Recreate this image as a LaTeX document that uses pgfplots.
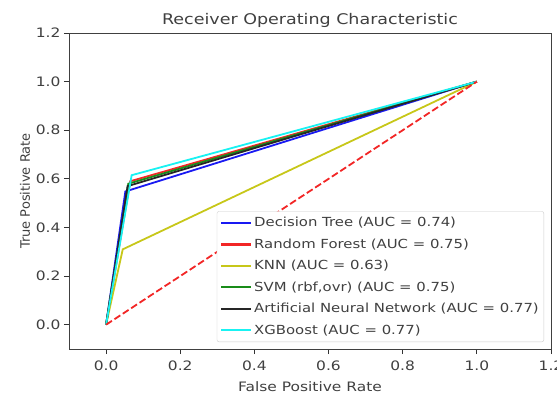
\documentclass[border=0pt]{standalone}
\usepackage{pgfplots}
\pgfplotsset{compat=1.18}
\usepackage{fontspec}
\setmainfont[FakeStretch=1.19]{DejaVu Sans}
\newfontfamily\plainfont{DejaVu Sans}
\definecolor{mplyellow}{rgb}{0.78,0.78,0.1}
\definecolor{mplgreen}{rgb}{0.1,0.55,0.1}
\definecolor{mplblue}{rgb}{0.1,0.1,0.95}
\definecolor{mplred}{rgb}{0.95,0.15,0.15}
\definecolor{mplcyan}{rgb}{0.1,0.95,0.95}
\definecolor{txt}{HTML}{404040}
\begin{document}
\begin{tikzpicture}
\begin{axis}[
  scale only axis,
  width=482bp, height=316bp,
  xmin=-0.1, xmax=1.2, ymin=-0.1, ymax=1.2,
  xtick={0,0.2,0.4,0.6,0.8,1.0,1.2},
  ytick={0,0.2,0.4,0.6,0.8,1.0,1.2},
  xticklabel style={yshift=-3bp, /pgf/number format/.cd,fixed,fixed zerofill,precision=1},
  yticklabel style={/pgf/number format/.cd,fixed,fixed zerofill,precision=1},
  /pgf/number format/assume math mode=true,
  tick align=outside, tick pos=left,
  major tick length=5bp,
  tick style={black!80, line width=0.8bp},
  axis line style={black!75, line width=0.9bp},
  ticklabel style={font=\fontsize{13bp}{15bp}\selectfont, text=txt},
  xlabel={False Positive Rate}, ylabel={True Positive Rate},
  xlabel style={font=\fontsize{13bp}{15bp}\selectfont, text=txt, yshift=-4bp},
  ylabel style={font=\plainfont\fontsize{13bp}{15bp}\selectfont, text=txt, yshift=-1bp},
  title={Receiver Operating Characteristic},
  title style={font=\fontsize{14.7bp}{17bp}\selectfont, text=txt, yshift=-4bp},
  legend cell align=left,
  legend style={at={(1,0)}, anchor=south east, xshift=-7bp, yshift=7bp,
    draw=black!20, rounded corners=2bp, fill=white,
    font=\fontsize{12.5bp}{15bp}\selectfont, text=txt,
    row sep=6.5bp, inner xsep=3bp, inner ysep=4bp},
  legend image code/.code={\draw[#1, line width=2.2bp] (0bp,0bp) -- (30bp,0bp);},
  every axis plot/.append style={line width=1.8bp},
]
\addplot[color=mplblue] coordinates {(0,0) (0.052,0.548) (1,1)};
\addlegendentry{Decision Tree (AUC = 0.74)}
\addplot[color=mplred] coordinates {(0,0) (0.065,0.59) (1,1)};
\addlegendentry{Random Forest (AUC = 0.75)}
\addplot[color=mplyellow] coordinates {(0,0) (0.045,0.31) (1,1)};
\addlegendentry{KNN (AUC = 0.63)}
\addplot[color=mplgreen] coordinates {(0,0) (0.06,0.58) (1,1)};
\addlegendentry{SVM (rbf,ovr) (AUC = 0.75)}
\addplot[color=black!85] coordinates {(0,0) (0.058,0.57) (1,1)};
\addlegendentry{Artificial Neural Network (AUC = 0.77)}
\addplot[color=mplcyan] coordinates {(0,0) (0.069,0.615) (1,1)};
\addlegendentry{XGBoost (AUC = 0.77)}
\addplot[color=mplred, dashed, dash pattern=on 7bp off 3bp, forget plot] coordinates {(0,0) (1,1)};
\end{axis}
\pgfresetboundingbox
\useasboundingbox (current axis.south west) ++(-69bp,-45bp) rectangle ([xshift=6bp,yshift=33bp]current axis.north east);
\end{tikzpicture}
\end{document}
